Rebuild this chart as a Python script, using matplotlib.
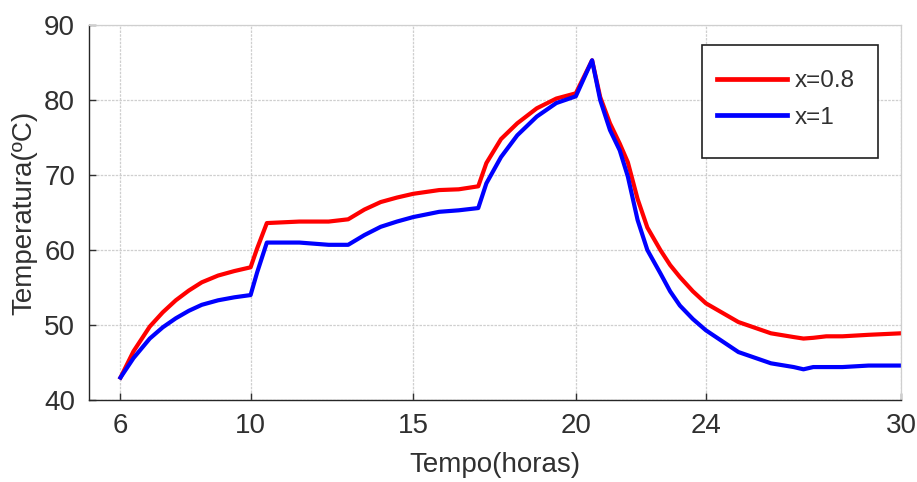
import matplotlib.pyplot as plt
from matplotlib.patches import Rectangle

plt.rcParams['font.family'] = ['Liberation Sans', 'DejaVu Sans']

horas = [6.0, 6.4, 6.9, 7.3, 7.7, 8.1, 8.5, 9.0, 9.5, 10.0, 10.2, 10.5, 11.5, 12.4,
         13.0, 13.5, 14.0, 14.5, 15.0, 15.8, 16.4, 17.0, 17.25, 17.7, 18.2, 18.8,
         19.4, 20.0, 20.5, 20.75, 21.05, 21.35, 21.6, 21.9, 22.2, 22.6, 22.9, 23.2,
         23.6, 24.0, 25.0, 26.0, 26.7, 27.0, 27.3, 27.7, 28.2, 29.0, 30.0]
temp_x08 = [43.0, 46.5, 49.8, 51.7, 53.3, 54.6, 55.7, 56.6, 57.2, 57.7, 60.2, 63.6,
            63.8, 63.8, 64.1, 65.4, 66.4, 67.0, 67.5, 68.0, 68.1, 68.5, 71.6, 74.8,
            76.9, 78.9, 80.2, 80.9, 85.3, 80.4, 76.9, 74.2, 71.7, 66.8, 63.0, 60.0,
            58.0, 56.4, 54.5, 52.9, 50.4, 48.9, 48.4, 48.2, 48.3, 48.5, 48.5, 48.7, 48.9]
temp_x1 = [43.0, 45.6, 48.2, 49.7, 50.9, 51.9, 52.7, 53.3, 53.7, 54.0, 57.0, 61.0,
           61.0, 60.7, 60.7, 62.0, 63.1, 63.8, 64.4, 65.1, 65.3, 65.6, 68.9, 72.4,
           75.3, 77.8, 79.6, 80.5, 85.3, 80.0, 76.0, 73.3, 69.8, 64.0, 60.0, 56.9,
           54.5, 52.6, 50.8, 49.3, 46.4, 44.9, 44.4, 44.1, 44.4, 44.4, 44.4, 44.6, 44.6]
xticks = [6, 10, 15, 20, 24, 30]
yticks = [40, 50, 60, 70, 80, 90]

txt = '#303030'
fig = plt.figure(figsize=(9.17, 4.82), dpi=100)
ax = fig.add_axes([0.097, 0.170, 0.8856, 0.778])

ax.plot(horas, temp_x08, color='#ff0000', lw=3, label='x=0.8')
ax.plot(horas, temp_x1, color='#0000ff', lw=3, label='x=1')

ax.set_xlim(5.03, 30)
ax.set_ylim(40, 90)
ax.set_xticks(xticks)
ax.set_yticks(yticks)
ax.grid(True, color='#cfcfcf', lw=0.9, ls=(0, (2, 1)))
ax.set_axisbelow(True)
ax.tick_params(direction='in', length=5, width=1, colors=txt, labelsize=20,
               top=False, right=False)
ax.tick_params(axis='x', pad=9)
ax.tick_params(axis='y', pad=10)
for s in ['left', 'bottom']:
    ax.spines[s].set_color('#262626')
    ax.spines[s].set_linewidth(1)
for s in ['top', 'right']:
    ax.spines[s].set_color('#cfcfcf')
    ax.spines[s].set_linewidth(0.9)

ax.set_xlabel('Tempo(horas)', fontsize=20, color=txt, labelpad=10)
ax.set_ylabel('Temperatura(ºC)', fontsize=20, color=txt, labelpad=5)

ax.add_patch(Rectangle((0.755, 0.645), 0.217, 0.302, transform=ax.transAxes,
                       facecolor='white', edgecolor='#202020', lw=1.2, zorder=4))
leg = ax.legend(loc='upper left', bbox_to_anchor=(0.773, 0.88), frameon=False,
                fontsize=17.5, handlelength=2.9, handletextpad=0.3,
                labelspacing=0.6, borderpad=0, borderaxespad=0)
leg.set_zorder(5)
for t in leg.get_texts():
    t.set_color(txt)
for h in leg.get_lines():
    h.set_linewidth(3.4)

fig.savefig('out.png', dpi=100)
